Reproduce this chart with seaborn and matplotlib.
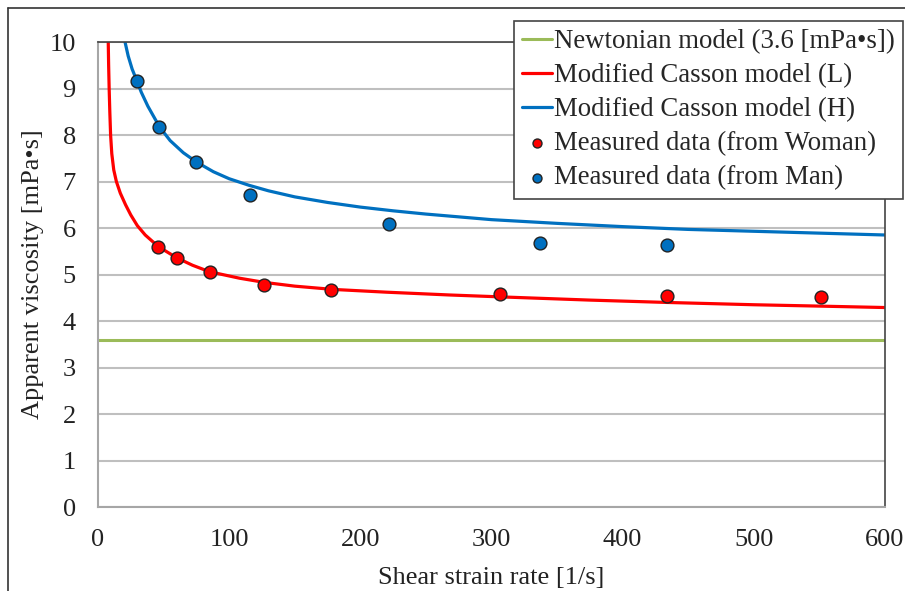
import matplotlib
matplotlib.use("Agg")
import matplotlib.pyplot as plt
from matplotlib.lines import Line2D
import seaborn as sns

# Newtonian model (constant viscosity)
newton_x = [0, 600]
newton_y = [3.6, 3.6]

# Modified Casson model (L)
casson_l_x = [7.8, 8.1, 8.5, 9.0, 9.6, 10.5, 12.0, 14.0, 17.0, 21.0, 25.0, 30.0,
              36.0, 46.0, 60.0, 72.0, 85.0, 108.0, 127.0, 150.0, 179.0, 220.0,
              268.0, 306.0, 375.0, 433.0, 500.0, 551.0, 600.0]
casson_l_y = [10.0, 9.5, 9.0, 8.5, 8.0, 7.6, 7.25, 7.0, 6.75, 6.5, 6.28, 6.05,
              5.85, 5.6, 5.36, 5.2, 5.06, 4.92, 4.83, 4.75, 4.68, 4.62,
              4.56, 4.52, 4.45, 4.40, 4.35, 4.32, 4.29]

# Modified Casson model (H)
casson_h_x = [20.6, 23.0, 26.0, 29.7, 33.0, 38.0, 47.0, 55.0, 65.0, 75.0, 88.0,
              100.0, 115.0, 130.0, 150.0, 175.0, 200.0, 225.0, 250.0, 275.0,
              300.0, 350.0, 400.0, 450.0, 500.0, 550.0, 600.0]
casson_h_y = [10.0, 9.7, 9.42, 9.16, 8.92, 8.62, 8.17, 7.88, 7.62, 7.42, 7.21,
              7.06, 6.92, 6.8, 6.67, 6.55, 6.45, 6.37, 6.30, 6.24,
              6.18, 6.1, 6.03, 5.97, 5.93, 5.89, 5.85]

# Measured data
woman_x = [45.7, 60.2, 85.4, 126.6, 177.6, 306.5, 433.8, 551.0]
woman_y = [5.59, 5.35, 5.05, 4.77, 4.67, 4.58, 4.54, 4.52]
man_x = [29.7, 46.5, 74.7, 115.9, 221.8, 337.0, 433.8]
man_y = [9.16, 8.17, 7.42, 6.71, 6.09, 5.68, 5.63]

y_ticks = list(range(0, 11))
x_ticks = [0, 100, 200, 300, 400, 500, 600]

GREEN = "#9bbb59"
RED = "#ff0000"
BLUE = "#0070c0"
FS = 19

sns.set_style("white")
plt.rcParams['font.family'] = ['Liberation Serif', 'DejaVu Sans']

fig = plt.figure(figsize=(9.05, 5.91), dpi=100)
ax = fig.add_axes([0.1083, 0.1421, 0.9779 - 0.1083, 0.9289 - 0.1421])

sns.lineplot(x=newton_x, y=newton_y, ax=ax, color=GREEN, linewidth=2.2,
             label="Newtonian model (3.6 [mPa•s])")
sns.lineplot(x=casson_l_x, y=casson_l_y, ax=ax, color=RED, linewidth=2.3,
             label="Modified Casson model (L)", sort=False)
sns.lineplot(x=casson_h_x, y=casson_h_y, ax=ax, color=BLUE, linewidth=2.3,
             label="Modified Casson model (H)", sort=False)
sns.scatterplot(x=woman_x, y=woman_y, ax=ax, color=RED, s=85,
                edgecolor="#222222", linewidth=1.0, zorder=5,
                label="Measured data (from Woman)")
sns.scatterplot(x=man_x, y=man_y, ax=ax, color=BLUE, s=85,
                edgecolor="#222222", linewidth=1.0, zorder=5,
                label="Measured data (from Man)")

ax.set_xlim(0, 600)
ax.set_ylim(0, 10)
ax.set_xticks(x_ticks)
ax.set_yticks(y_ticks)
ax.tick_params(axis='both', labelsize=FS, length=0, colors="#222222")
ax.tick_params(axis='x', pad=16)
ax.tick_params(axis='y', pad=16)
ax.yaxis.grid(True, color="#bfbfbf", linewidth=1.5)
ax.xaxis.grid(False)
ax.set_axisbelow(True)

for side in ['top', 'right']:
    ax.spines[side].set_color("#444444")
    ax.spines[side].set_linewidth(1.2)
for side in ['left', 'bottom']:
    ax.spines[side].set_color("#a6a6a6")
    ax.spines[side].set_linewidth(1.5)

ax.set_xlabel("Shear strain rate [1/s]", fontsize=FS, color="#222222", labelpad=11)
ax.set_ylabel("Apparent viscosity [mPa•s]", fontsize=FS, color="#222222", labelpad=4)

leg = ax.legend(loc='upper right', bbox_to_anchor=(903 / 905, 1 - 21 / 591),
                bbox_transform=fig.transFigure, borderaxespad=0, fontsize=19.3,
                frameon=True, fancybox=False, handlelength=1.1, handletextpad=0.1,
                labelspacing=0.34, borderpad=0.3, markerscale=0.7)
leg.get_frame().set_edgecolor("#444444")
leg.get_frame().set_linewidth(1.2)
leg.get_frame().set_alpha(1)
leg.set_zorder(10)

# outer frame of the picture
fig.add_artist(Line2D([8 / 905, 1], [1 - 8 / 591, 1 - 8 / 591], color="#333333", linewidth=1.2))
fig.add_artist(Line2D([8 / 905, 8 / 905], [0, 1 - 8 / 591], color="#333333", linewidth=1.2))

fig.savefig("out.png", dpi=100)
